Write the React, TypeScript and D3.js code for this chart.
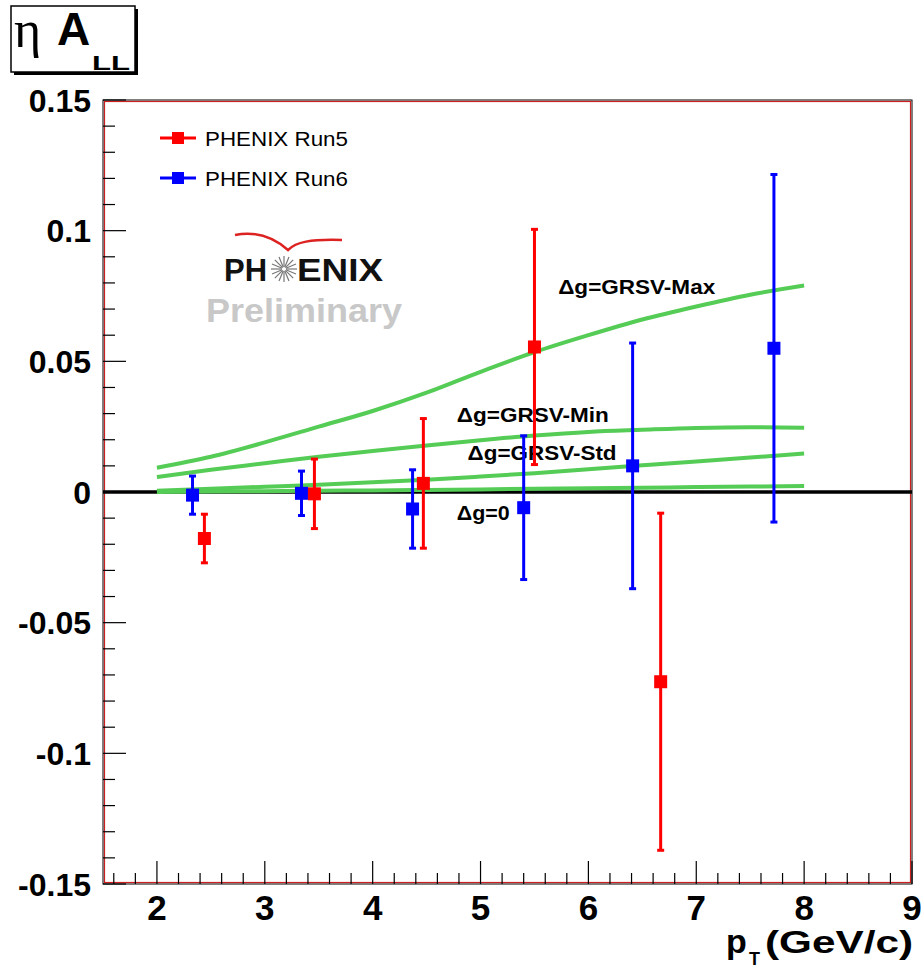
import React from "react";
import * as d3 from "d3";

const curvePt = [2, 2.5, 3, 3.5, 4, 4.5, 5, 5.5, 6, 6.5, 7, 7.5, 8];
const curveMax = [0.0093, 0.0135, 0.019, 0.025, 0.031, 0.038, 0.046, 0.0535, 0.06, 0.066, 0.071, 0.0755, 0.079];
const curveMin = [0.0057, 0.0085, 0.011, 0.0135, 0.0157, 0.0178, 0.0198, 0.0216, 0.023, 0.0238, 0.0245, 0.0248, 0.0246];
const curveStd = [0.0005, 0.0012, 0.002, 0.0028, 0.0037, 0.0047, 0.0059, 0.0072, 0.0087, 0.0102, 0.0117, 0.0132, 0.0147];
const curveZero = [0.0, 0.0002, 0.0003, 0.0005, 0.0006, 0.0008, 0.001, 0.0012, 0.0014, 0.0016, 0.0019, 0.0021, 0.0023];

const run5Pt = [2.44, 3.46, 4.47, 5.5, 6.67];
const run5Val = [-0.0178, -0.0007, 0.0033, 0.0555, -0.0726];
const run5Err = [0.0093, 0.0133, 0.0248, 0.045, 0.0645];

const run6Pt = [2.33, 3.34, 4.37, 5.4, 6.41, 7.72];
const run6Val = [-0.0012, -0.0005, -0.0065, -0.006, 0.01, 0.055];
const run6Err = [0.0073, 0.0085, 0.015, 0.0275, 0.047, 0.0665];

const xTicks = [2, 3, 4, 5, 6, 7, 8, 9];
const yTicks = [0.15, 0.1, 0.05, 0, -0.05, -0.1, -0.15];
const yTickLabels = ["0.15", "0.1", "0.05", "0", "-0.05", "-0.1", "-0.15"];

const curveLabels = [
  { text: "Δg=GRSV-Max", pt: 5.72, v: 0.0758, len: 157 },
  { text: "Δg=GRSV-Min", pt: 4.78, v: 0.0268, len: 152 },
  { text: "Δg=GRSV-Std", pt: 4.88, v: 0.0122, len: 149 },
  { text: "Δg=0", pt: 4.78, v: -0.0107, len: 53 },
];

const FONT = "'Liberation Sans', Arial, Helvetica, sans-serif";

export default function App() {
  const L = 103, R = 912, T = 100, B = 884;
  const x = d3.scaleLinear().domain([1.5, 9]).range([L, R]);
  const y = d3.scaleLinear().domain([-0.15, 0.15]).range([B, T]);
  const green = "#55cc55";

  const line = d3
    .line<number>()
    .x((_, i) => x(curvePt[i]))
    .y((d) => y(d))
    .curve(d3.curveMonotoneX);

  const xMinor = d3.range(16, 91, 2).map((v) => v / 10).filter((v) => Math.abs(v - Math.round(v)) > 1e-6);
  const yMinor = d3.range(-15, 16).map((v) => v / 100).filter((v) => Math.abs(v * 20 - Math.round(v * 20)) > 1e-6);

  const markers = (pts: number[], vals: number[], errs: number[], color: string) =>
    pts.map((p, i) => {
      const cx = x(p);
      const cy = y(vals[i]);
      const y1 = y(vals[i] + errs[i]);
      const y2 = y(vals[i] - errs[i]);
      return (
        <g key={color + i}>
          <line x1={cx} x2={cx} y1={y1} y2={y2} stroke={color} strokeWidth={3} />
          <line x1={cx - 3.5} x2={cx + 3.5} y1={y1} y2={y1} stroke={color} strokeWidth={3} />
          <line x1={cx - 3.5} x2={cx + 3.5} y1={y2} y2={y2} stroke={color} strokeWidth={3} />
          <rect x={cx - 6.5} y={cy - 6.5} width={13} height={13} fill={color} />
        </g>
      );
    });

  const starC = [284, 269];
  const rays = d3.range(16).map((i) => (i * Math.PI * 2) / 16);

  return (
    <svg width={924} height={969} style={{ position: "absolute", left: 0, top: 0 }} fontFamily={FONT}>
      <rect x={0} y={0} width={924} height={969} fill="white" />

      {/* title box */}
      <rect x={14} y={9} width={124} height={66} fill="black" />
      <rect x={11} y={6} width={124} height={66} fill="white" stroke="black" strokeWidth={1.5} />
      <text x={14} y={47} fontFamily="'Liberation Serif', 'DejaVu Serif', serif" fontSize={52}>η</text>
      <text x={57} y={45} fontSize={46} fontWeight="bold">A</text>
      <text x={92} y={70} fontSize={21} fontWeight="bold" textLength={38} lengthAdjust="spacingAndGlyphs">LL</text>

      {/* frame */}
      <rect x={L} y={T} width={R - L} height={B - T} fill="white" stroke="black" strokeWidth={1} />
      <rect x={L + 1.5} y={T + 1.5} width={R - L - 3} height={B - T - 3} fill="none" stroke="#cc2020" strokeWidth={1.2} />

      {/* y ticks */}
      {yTicks.map((v) => (
        <line key={"ym" + v} x1={L} x2={L + 23} y1={y(v)} y2={y(v)} stroke="black" strokeWidth={1.2} />
      ))}
      {yMinor.map((v) => (
        <line key={"yn" + v} x1={L} x2={L + 12} y1={y(v)} y2={y(v)} stroke="black" strokeWidth={1.2} />
      ))}
      {yTicks.map((v, i) => (
        <text key={"yl" + v} x={91} y={y(v) + 11.5} fontSize={32} fontWeight="bold" textAnchor="end">
          {yTickLabels[i]}
        </text>
      ))}

      {/* x ticks */}
      {xTicks.map((v) => (
        <line key={"xm" + v} x1={x(v)} x2={x(v)} y1={B} y2={B - 23} stroke="black" strokeWidth={1.2} />
      ))}
      {xMinor.map((v) => (
        <line key={"xn" + v} x1={x(v)} x2={x(v)} y1={B} y2={B - 11} stroke="black" strokeWidth={1.2} />
      ))}
      {xTicks.map((v) => (
        <text key={"xl" + v} x={x(v)} y={920} fontSize={35} fontWeight="bold" textAnchor="middle">
          {v}
        </text>
      ))}

      {/* x title */}
      <text x={726} y={953} fontSize={34} fontWeight="bold">p</text>
      <text x={749} y={965} fontSize={18} fontWeight="bold">T</text>
      <text x={765} y={953} fontSize={32} fontWeight="bold" textLength={148} lengthAdjust="spacingAndGlyphs">(GeV/c)</text>

      {/* zero line */}
      <line x1={L} x2={R} y1={y(0)} y2={y(0)} stroke="black" strokeWidth={3.5} />

      {/* theory curves */}
      {[curveMax, curveMin, curveStd, curveZero].map((c, i) => (
        <path key={"c" + i} d={line(c) || ""} fill="none" stroke={green} strokeWidth={4} />
      ))}
      {curveLabels.map((l) => (
        <text key={l.text} x={x(l.pt)} y={y(l.v)} fontSize={20} fontWeight="bold" textLength={l.len} lengthAdjust="spacingAndGlyphs">
          {l.text}
        </text>
      ))}

      {/* legend */}
      <line x1={160} x2={196} y1={138} y2={138} stroke="red" strokeWidth={3} />
      <rect x={172} y={132} width={12} height={12} fill="red" />
      <text x={205} y={146} fontSize={20} textLength={143} lengthAdjust="spacingAndGlyphs">PHENIX Run5</text>
      <line x1={160} x2={196} y1={178} y2={178} stroke="blue" strokeWidth={3} />
      <rect x={172} y={172} width={12} height={12} fill="blue" />
      <text x={205} y={186} fontSize={20} textLength={143} lengthAdjust="spacingAndGlyphs">PHENIX Run6</text>

      {/* PHENIX logo */}
      <path d="M235,235 C255,231 272,236 288,250 C296,242 310,239 342,240" fill="none" stroke="#dd2222" strokeWidth={2.5} />
      <text x={224} y={281} fontSize={31} fontWeight="bold" fill="#111">PH</text>
      {rays.map((a, i) => (
        <line key={"r" + i} x1={starC[0] + 2 * Math.cos(a)} y1={starC[1] + 2 * Math.sin(a)} x2={starC[0] + 13 * Math.cos(a)} y2={starC[1] + 13 * Math.sin(a)} stroke="#777" strokeWidth={1.2} />
      ))}
      <text x={297} y={281} fontSize={31} fontWeight="bold" fill="#111" textLength={86} lengthAdjust="spacingAndGlyphs">ENIX</text>
      <text x={206} y={322} fontSize={33} fontWeight="bold" fill="#c8c8c8" textLength={196} lengthAdjust="spacingAndGlyphs">Preliminary</text>

      {/* data */}
      {markers(run6Pt, run6Val, run6Err, "blue")}
      {markers(run5Pt, run5Val, run5Err, "red")}
    </svg>
  );
}
